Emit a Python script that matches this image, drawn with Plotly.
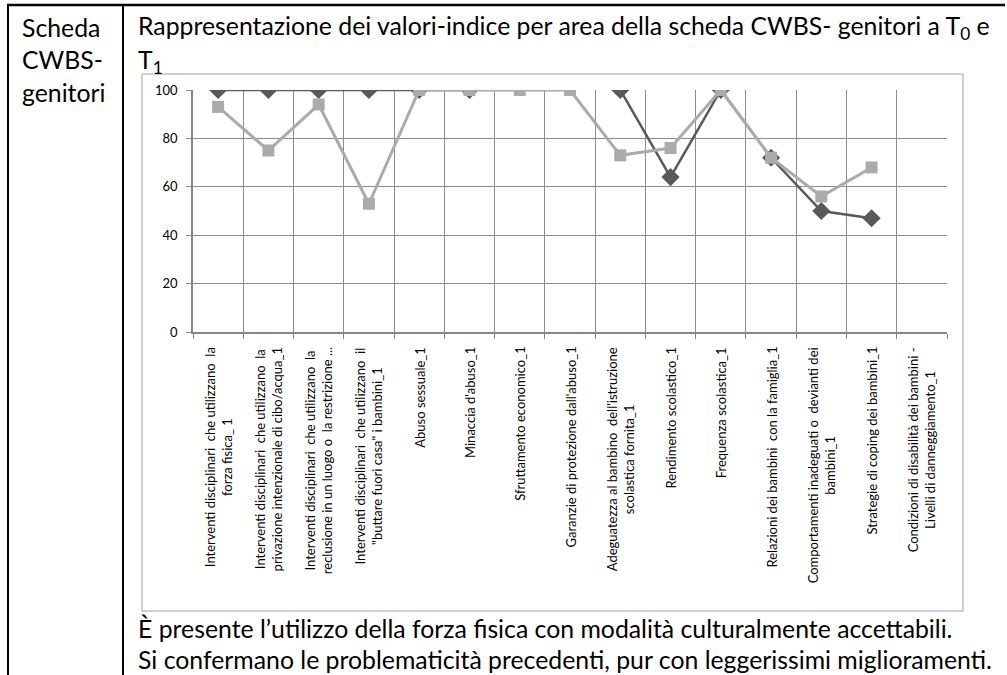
import plotly.graph_objects as go

# ---- data ----
categories = [
    "Interventi disciplinari che utilizzano la forza fisica_ 1",
    "Interventi disciplinari che utilizzano la privazione intenzionale di cibo/acqua_1",
    "Interventi disciplinari che utilizzano la reclusione in un luogo o la restrizione ...",
    "Interventi disciplinari che utilizzano il \"buttare fuori casa\" i bambini_1",
    "Abuso sessuale_1",
    "Minaccia d'abuso_1",
    "Sfruttamento economico_1",
    "Garanzie di protezione dall'abuso_1",
    "Adeguatezza al bambino dell'istruzione scolastica fornita_1",
    "Rendimento scolastico_1",
    "Frequenza scolastica_1",
    "Relazioni dei bambini con la famiglia_1",
    "Comportamenti inadeguati o devianti dei bambini_1",
    "Strategie di coping dei bambini_1",
    "Condizioni di disabilità dei bambini - Livelli di danneggiamento_1",
]
tick_labels = [
    "Interventi disciplinari  che utilizzano  la<br>forza fisica_ 1",
    "Interventi disciplinari  che utilizzano  la<br>privazione intenzionale di cibo/acqua_1",
    "Interventi disciplinari  che utilizzano  la<br>reclusione in un luogo o  la restrizione ...",
    "Interventi disciplinari  che utilizzano  il<br>\"buttare fuori casa\" i bambini_1",
    "Abuso sessuale_1",
    "Minaccia d'abuso_1",
    "Sfruttamento economico_1",
    "Garanzie di protezione dall'abuso_1",
    "Adeguatezza al bambino  dell'istruzione<br>scolastica fornita_1",
    "Rendimento scolastico_1",
    "Frequenza scolastica_1",
    "Relazioni dei bambini  con la famiglia_1",
    "Comportamenti inadeguati o  devianti dei<br>bambini_1",
    "Strategie di coping dei bambini_1",
    "Condizioni di disabilità dei bambini -<br>Livelli di danneggiamento_1",
]
t0_values = [100, 100, 100, 100, 100, 100, None, None, 100, 64, 100, 72, 50, 47, None]
t1_values = [93, 75, 94, 53, 100, 100, 100, 100, 73, 76, 100, 72, 56, 68, None]
y_ticks = [0, 20, 40, 60, 80, 100]

title_line1 = "Rappresentazione dei valori-indice per area della scheda CWBS- genitori a T<sub>0</sub> e"
title_line2 = "T<sub>1</sub>"
left_lines = ["Scheda", "CWBS-", "genitori"]
note_lines = [
    "È presente l’utilizzo della forza fisica con modalità culturalmente accettabili.",
    "Si confermano le problematicità precedenti, pur con leggerissimi miglioramenti.",
]

# ---- layout geometry (pixels) ----
W, H = 1007, 675
PL, PR, PT, PB = 193, 947, 90, 332


def px(X):
    return (X - PL) / (PR - PL)


def py(Y):
    return (PB - Y) / (PB - PT)


FONT = "Lato, 'Open Sans', sans-serif"
DARK = "#595959"
LIGHT = "#ababab"
BIG = 24.8

x_idx = list(range(len(categories)))

fig = go.Figure()
fig.add_trace(go.Scatter(
    x=x_idx, y=t0_values, mode="lines+markers", name="T0",
    line=dict(color=DARK, width=2.5),
    marker=dict(symbol="diamond", size=14, color=DARK),
    connectgaps=False, showlegend=False,
))
fig.add_trace(go.Scatter(
    x=x_idx, y=t1_values, mode="lines+markers", name="T1",
    line=dict(color=LIGHT, width=3),
    marker=dict(symbol="square", size=12, color=LIGHT),
    connectgaps=False, showlegend=False,
))

annotations = []
for i, lab in enumerate(tick_labels):
    annotations.append(dict(
        x=i, xref="x", y=py(345), yref="paper", text=lab, showarrow=False,
        textangle=-90, xanchor="center", yanchor="top", align="center",
        font=dict(family=FONT, size=13, color="#000000"),
    ))

annotations.append(dict(x=px(136), y=py(28), xref="paper", yref="paper", text=title_line1,
                        showarrow=False, xanchor="left", yanchor="middle",
                        font=dict(family=FONT, size=BIG, color="#000")))
annotations.append(dict(x=px(136), y=py(62), xref="paper", yref="paper", text=title_line2,
                        showarrow=False, xanchor="left", yanchor="middle",
                        font=dict(family=FONT, size=BIG, color="#000")))
for k, t in enumerate(left_lines):
    annotations.append(dict(x=px(20), y=py(28 + 32 * k), xref="paper", yref="paper", text=t,
                            showarrow=False, xanchor="left", yanchor="middle",
                            font=dict(family=FONT, size=BIG, color="#000")))
for k, t in enumerate(note_lines):
    annotations.append(dict(x=px(136), y=py(628 + 31 * k), xref="paper", yref="paper", text=t,
                            showarrow=False, xanchor="left", yanchor="middle",
                            font=dict(family=FONT, size=BIG, color="#000")))

shapes = [
    dict(type="line", xref="paper", yref="paper", x0=px(7), x1=px(1005), y0=py(5), y1=py(5),
         line=dict(color="#000", width=2.5)),
    dict(type="line", xref="paper", yref="paper", x0=px(8), x1=px(8), y0=py(5), y1=py(680),
         line=dict(color="#000", width=2)),
    dict(type="line", xref="paper", yref="paper", x0=px(123), x1=px(123), y0=py(5), y1=py(680),
         line=dict(color="#000", width=2)),
    dict(type="rect", xref="paper", yref="paper", x0=px(142), x1=px(963), y0=py(74), y1=py(611),
         line=dict(color="#a0a0a0", width=1), layer="below"),
]

fig.update_layout(
    width=W, height=H,
    margin=dict(l=PL, r=W - PR, t=PT, b=H - PB, pad=0),
    paper_bgcolor="white", plot_bgcolor="white",
    showlegend=False,
    annotations=annotations, shapes=shapes,
    font=dict(family=FONT, size=13, color="#000"),
    xaxis=dict(
        type="linear", range=[-0.5, len(categories) - 0.5],
        tickmode="array", tickvals=[i - 0.5 for i in range(len(categories) + 1)],
        showticklabels=False, ticks="outside", ticklen=5, tickcolor="#868686",
        showgrid=True, gridcolor="#8c8c8c", gridwidth=1,
        showline=True, linecolor="#868686", linewidth=1.5, zeroline=False,
        fixedrange=True,
    ),
    yaxis=dict(
        range=[0, 100], tickmode="array", tickvals=y_ticks,
        ticks="outside", ticklen=5, tickcolor="#868686",
        showgrid=True, gridcolor="#8c8c8c", gridwidth=1,
        showline=True, linecolor="#868686", linewidth=1.5, zeroline=False,
        tickfont=dict(family=FONT, size=13, color="#000"),
        ticklabelstandoff=6,
        fixedrange=True,
    ),
)

fig.write_html(
    "out.html",
    config={"displayModeBar": False},
    post_script="document.body.style.margin='0';document.body.style.overflow='hidden';",
)
